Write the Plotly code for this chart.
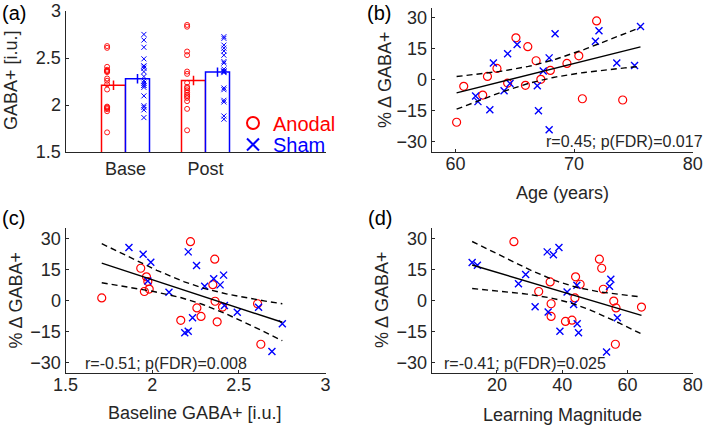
import numpy as np
import plotly.graph_objects as go

# ---------------- data ----------------
categories = ["Base", "Post"]

# panel (a): GABA+ [i.u.] per subject
base_anodal = [1.709, 1.934, 1.967, 1.975, 1.955, 1.983, 2.221, 2.361, 2.350, 2.363,
               2.258, 2.282, 2.165, 2.406, 2.375, 2.608, 2.627]
post_anodal = [1.731, 2.236, 2.193, 2.157, 2.041, 2.094, 2.852, 2.833, 2.531, 2.356,
               2.179, 2.109, 1.959, 2.331, 2.133, 2.569, 2.075]
base_sham = [1.866, 1.948, 1.992, 1.975, 2.097, 2.208, 2.256, 2.355, 2.392, 2.303,
             2.412, 2.417, 2.491, 2.233, 2.188, 2.208, 2.614, 2.751, 2.691]
post_sham = [2.344, 2.382, 2.361, 2.163, 2.181, 2.727, 2.637, 2.605, 2.574, 2.462,
             2.709, 2.361, 2.352, 2.050, 1.849, 1.883, 2.530, 2.446, 2.032]
mean_anodal = [2.21, 2.26]
mean_sham = [2.28, 2.35]
se_anodal = [0.05, 0.05]
se_sham = [0.05, 0.05]

# panel (b): age vs % change
age_anodal = [60.1, 60.7, 62.3, 62.7, 63.5, 64.4, 65.1, 65.9, 66.1, 66.8, 67.2, 68.0,
              69.4, 70.4, 70.7, 71.9, 74.1]
pct_b_anodal = [-20.6, -3.2, -7.4, 1.6, 5.5, -1.6, 20.3, -2.7, 16.0, 9.2, 0.2, 4.5,
                7.9, 11.6, -9.2, 28.5, -9.8]
age_sham = [61.7, 61.9, 62.9, 63.2, 64.1, 64.4, 64.6, 65.2, 66.9, 67.0, 67.4, 67.9,
            67.9, 68.4, 71.8, 72.1, 73.6, 75.1, 75.6]
pct_b_sham = [-7.9, -10.6, -14.5, 8.1, -5.3, 12.6, -1.8, 17.1, -2.9, -15.0, 4.2, 10.6,
              -24.2, 22.3, 18.7, 23.7, 8.1, 6.9, 25.8]

# panel (c): baseline GABA+ vs % change
pct_c_anodal = [1.3, 15.6, 11.5, 9.2, 4.4, 5.6, 28.4, 20.0, 7.7, -0.3, -3.5, -7.6,
                -9.5, -3.1, -10.2, -1.5, -21.0]
pct_c_sham = [25.6, 22.3, 18.5, 9.5, 4.0, 23.5, 16.9, 10.6, 7.6, 6.9, 12.3, -2.3,
              -5.6, -8.2, -15.5, -14.7, -3.2, -11.1, -24.5]

# panel (d): learning magnitude vs % change
lm_anodal = [25.2, 32.8, 36.3, 36.6, 36.6, 41.0, 43.0, 43.9, 44.1, 45.5, 51.4, 52.1,
             52.6, 55.8, 56.5, 56.3, 64.3]
pct_d_anodal = [28.4, 4.4, 9.0, -1.5, -7.6, -10.0, -9.4, 1.3, 11.5, 7.9, 20.0, 15.6,
                5.5, -0.2, -3.5, -21.0, -3.1]
lm_sham = [12.4, 14.0, 26.6, 28.8, 31.7, 35.4, 37.3, 39.0, 35.7, 39.3, 41.5, 43.5,
           44.5, 44.6, 45.0, 54.5, 54.9, 56.9, 53.6]
pct_d_sham = [18.4, 17.1, 8.1, 12.6, -2.9, 23.5, 22.1, 25.6, -5.5, -14.7, 4.2, -1.9,
              7.4, -11.1, -15.5, 6.9, 10.3, -8.2, -24.7]

stats_text = ["r=0.45; p(FDR)=0.017", "r=-0.51; p(FDR)=0.008", "r=-0.41; p(FDR)=0.025"]

# ---------------- style ----------------
RED = "#ff0000"
BLUE = "#0000ff"
AX = "#262626"
FONT = "Liberation Sans, Arial, Helvetica, sans-serif"
W, H = 709, 428
T95 = 2.032  # t critical, df = 34

def px_x(p):
    return p / W

def px_y(p):
    return 1 - p / H

left_dom = [px_x(65.5), px_x(325.5)]
right_dom = [px_x(431.7), px_x(692.7)]
top_dom_a = [px_y(152.0), px_y(11.0)]
top_dom = [px_y(152.0), px_y(7.5)]
bot_dom = [px_y(373.3), px_y(228.0)]

fig = go.Figure()

# ---------------- panel (a) ----------------
cat_pos = np.arange(len(categories)) + 1.0
bw = 0.30
fig.add_trace(go.Bar(x=cat_pos - bw / 2, y=mean_anodal, width=bw,
                     marker=dict(color="white", line=dict(color=RED, width=1.5)),
                     error_y=dict(type="data", array=se_anodal, color=RED, thickness=1.5, width=0),
                     showlegend=False, xaxis="x", yaxis="y"))
fig.add_trace(go.Bar(x=cat_pos + bw / 2, y=mean_sham, width=bw,
                     marker=dict(color="white", line=dict(color=BLUE, width=1.5)),
                     error_y=dict(type="data", array=se_sham, color=BLUE, thickness=1.5, width=0),
                     showlegend=False, xaxis="x", yaxis="y"))

for i, (ya, ys) in enumerate([(base_anodal, base_sham), (post_anodal, post_sham)]):
    fig.add_trace(go.Scatter(x=[cat_pos[i] - 0.23] * len(ya), y=ya, mode="markers",
                             marker=dict(symbol="circle-open", size=5, color=RED,
                                         line=dict(width=0.9, color=RED)),
                             name="Anodal", showlegend=(i == 0), legend="legend",
                             xaxis="x", yaxis="y"))
    fig.add_trace(go.Scatter(x=[cat_pos[i] + 0.23] * len(ys), y=ys, mode="markers",
                             marker=dict(symbol="x-thin", size=5, color=BLUE,
                                         line=dict(width=1.0, color=BLUE)),
                             name="Sham", showlegend=(i == 0), legend="legend2",
                             xaxis="x", yaxis="y"))


# ---------------- scatter panels ----------------
def scatter_panel(xa, ya, xs, ys, xref, yref):
    fig.add_trace(go.Scatter(x=xa, y=ya, mode="markers",
                             marker=dict(symbol="circle-open", size=8, color=RED,
                                         line=dict(width=1.2, color=RED)),
                             showlegend=False, xaxis=xref, yaxis=yref))
    fig.add_trace(go.Scatter(x=xs, y=ys, mode="markers",
                             marker=dict(symbol="x-thin", size=7, color=BLUE,
                                         line=dict(width=1.4, color=BLUE)),
                             showlegend=False, xaxis=xref, yaxis=yref))
    x = np.array(list(xa) + list(xs), dtype=float)
    y = np.array(list(ya) + list(ys), dtype=float)
    n = len(x)
    slope, icpt = np.polyfit(x, y, 1)
    resid = y - (slope * x + icpt)
    s = np.sqrt(np.sum(resid ** 2) / (n - 2))
    xm = x.mean()
    sxx = np.sum((x - xm) ** 2)
    xx = np.linspace(x.min(), x.max(), 60)
    yy = slope * xx + icpt
    half = T95 * s * np.sqrt(1.0 / n + (xx - xm) ** 2 / sxx)
    for yv, dash in [(yy, "solid"), (yy + half, "6px,4px"), (yy - half, "6px,4px")]:
        fig.add_trace(go.Scatter(x=xx, y=yv, mode="lines",
                                 line=dict(color="black", width=1.4, dash=dash),
                                 showlegend=False, xaxis=xref, yaxis=yref, hoverinfo="skip"))


scatter_panel(age_anodal, pct_b_anodal, age_sham, pct_b_sham, "x2", "y2")
scatter_panel(base_anodal, pct_c_anodal, base_sham, pct_c_sham, "x3", "y3")
scatter_panel(lm_anodal, pct_d_anodal, lm_sham, pct_d_sham, "x4", "y4")

# ---------------- axes ----------------
tickfont = dict(family=FONT, size=18, color=AX)
common = dict(showline=True, linecolor=AX, linewidth=1, showgrid=False, zeroline=False,
              ticks="inside", ticklen=3, tickcolor=AX, tickfont=tickfont, mirror=False,
              automargin=False, ticklabeloverflow="allow")
xcommon = dict(common, ticklabelstandoff=-5)

pct_ticks = [-30, -15, 0, 15, 30]

fig.update_layout(
    xaxis=dict(domain=left_dom, anchor="y", range=[0.25, 3.5], tickvals=list(cat_pos),
               ticktext=categories, **{**common, "ticks": ""}),
    yaxis=dict(domain=top_dom_a, anchor="x", range=[1.5, 3.0001], tickvals=[1.5, 2, 2.5, 3],
               ticktext=["1.5", "2", "2.5", "3"], **common),
    xaxis2=dict(domain=right_dom, anchor="y2", range=[58, 80.0001], tickvals=[60, 70, 80], **xcommon),
    yaxis2=dict(domain=top_dom, anchor="x2", range=[-35, 35], tickvals=pct_ticks, **common),
    xaxis3=dict(domain=left_dom, anchor="y3", range=[1.4999, 3.0001], tickvals=[1.5, 2, 2.5, 3],
                ticktext=["1.5", "2", "2.5", "3"], **xcommon),
    yaxis3=dict(domain=bot_dom, anchor="x3", range=[-35, 35], tickvals=pct_ticks, **common),
    xaxis4=dict(domain=right_dom, anchor="y4", range=[0, 80.0001], tickvals=[20, 40, 60, 80], **xcommon),
    yaxis4=dict(domain=bot_dom, anchor="x4", range=[-35, 35], tickvals=pct_ticks, **common),
)

# ---------------- text ----------------
ann = []

def txt(text, x, y, size, color=AX, xanchor="center", yanchor="middle", angle=0):
    ann.append(dict(text=text, x=px_x(x), y=px_y(y), xref="paper", yref="paper",
                    showarrow=False, xanchor=xanchor, yanchor=yanchor, textangle=angle,
                    font=dict(family=FONT, size=size, color=color)))

# panel labels
txt("(a)", 0, 13, 20, color="black", xanchor="left")
txt("(b)", 365, 13, 20, color="black", xanchor="left")
txt("(c)", 0, 218, 20, color="black", xanchor="left")
txt("(d)", 366, 218, 20, color="black", xanchor="left")

# axis titles
txt("GABA+ [i.u.]", 11, 80, 18, angle=-90)
txt("% \u0394 GABA+", 385, 80, 18, angle=-90)
txt("% \u0394 GABA+", 15.5, 300, 18, angle=-90)
txt("% \u0394 GABA+", 382, 300, 18, angle=-90)
txt("Age (years)", 562, 193, 18)
txt("Baseline GABA+ [i.u.]", 195, 413, 18)
txt("Learning Magnitude", 562, 415, 18)

# stats
txt(stats_text[0], 705, 141.5, 16, xanchor="right")
txt(stats_text[1], 82.5, 363.5, 16, xanchor="left")
txt(stats_text[2], 441.5, 363.5, 16, xanchor="left")

fig.update_layout(
    annotations=ann,
    width=W, height=H,
    margin=dict(l=0, r=0, t=0, b=0, autoexpand=False),
    paper_bgcolor="white", plot_bgcolor="white",
    barmode="overlay",
    showlegend=True,
    legend=dict(x=px_x(233), y=px_y(123), xanchor="left", yanchor="middle",
                font=dict(family=FONT, size=20, color=RED), bgcolor="rgba(0,0,0,0)",
                itemsizing="constant", tracegroupgap=0),
    legend2=dict(x=px_x(233), y=px_y(144.5), xanchor="left", yanchor="middle",
                 font=dict(family=FONT, size=20, color=BLUE), bgcolor="rgba(0,0,0,0)",
                 itemsizing="constant", tracegroupgap=0),
)

fig.write_html(
    "out.html",
    config={"displayModeBar": False},
    post_script="document.body.style.margin='0';document.body.style.padding='0';"
                "document.body.style.overflow='hidden';",
)
